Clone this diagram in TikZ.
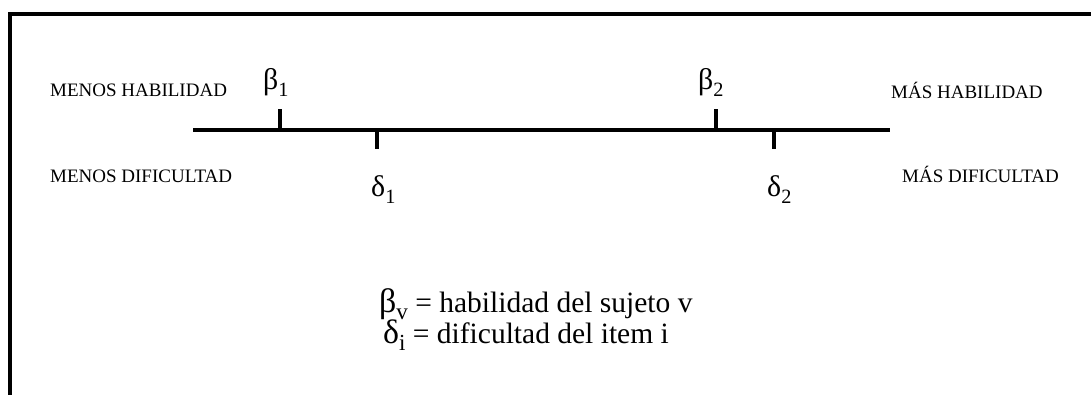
\documentclass[tikz,border=0pt]{standalone}
\usepackage{fontspec}
\usepackage{graphicx}
\setmainfont{Liberation Serif}
\newcommand\lowsub[1]{\raisebox{-.25em}{\scalebox{.78}{#1}}}
\newcommand\grk[1]{\scalebox{1.15}{#1}}
\tikzset{
  frameline/.style={line width=4pt},
  axisline/.style={line width=4.5pt},
  tickline/.style={line width=4pt},
  sidelabel/.style={anchor=base west, inner sep=0pt, font=\fontsize{19}{22}\selectfont},
  greeklabel/.style={anchor=base west, inner sep=0pt, font=\fontsize{26}{28}\selectfont},
  legend/.style={anchor=base west, inner sep=0pt, font=\fontsize{29.5}{34}\selectfont},
}
\begin{document}
\begin{tikzpicture}[x=1pt,y=-1pt]
\useasboundingbox (0,0) rectangle (1091,395);
% frame
\coordinate (fb) at (10,397);
\coordinate (fc) at (10,14);
\coordinate (fr) at (1093,14);
\draw[frameline] (fb) -- (fc) -- (fr);
% axis
\coordinate (axL) at (193,130);
\coordinate (axR) at (890,130);
\draw[axisline] (axL) -- (axR);
% ticks
\coordinate (b1a) at (280,130); \coordinate (b1b) at (280,109);
\coordinate (d1a) at (377,130); \coordinate (d1b) at (377,149);
\coordinate (b2a) at (716,130); \coordinate (b2b) at (716,109);
\coordinate (d2a) at (774,130); \coordinate (d2b) at (774,149);
\draw[tickline] (b1a) -- (b1b);
\draw[tickline] (d1a) -- (d1b);
\draw[tickline] (b2a) -- (b2b);
\draw[tickline] (d2a) -- (d2b);
% side labels
\node[sidelabel] (mh) at (50,97) {MENOS HABILIDAD};
\node[sidelabel] (md) at (50,183) {MENOS DIFICULTAD};
\node[sidelabel] (ph) at (891,99) {MÁS HABILIDAD};
\node[sidelabel] (pd) at (902,183) {MÁS DIFICULTAD};
% greek labels
\node[greeklabel] (lb1) at (263,90) {\grk{β}\lowsub{1}};
\node[greeklabel] (ld1) at (371,197) {\grk{δ}\lowsub{1}};
\node[greeklabel] (lb2) at (698,90) {\grk{β}\lowsub{2}};
\node[greeklabel] (ld2) at (767,197) {\grk{δ}\lowsub{2}};
% legend
\node[legend] (leg1) at (379,312) {\grk{β}\lowsub{v} = habilidad del sujeto v};
\node[legend] (leg2) at (383,343) {\grk{δ}\lowsub{i} = dificultad del item i};
\end{tikzpicture}
\end{document}
